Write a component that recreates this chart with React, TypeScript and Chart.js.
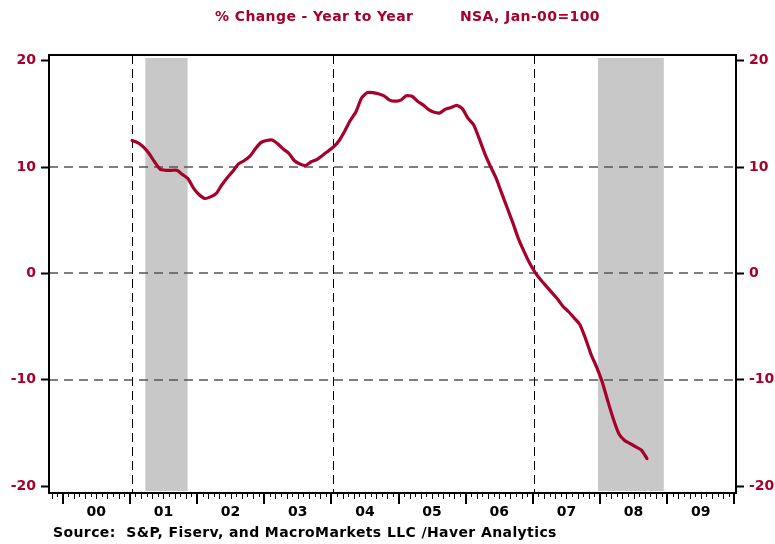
import React, { useEffect, useRef } from 'react';
import { Chart, registerables } from 'chart.js';

Chart.register(...registerables);

// ---- data (monthly, year-over-year % change, Jan 2001 .. Sep 2008) ----
const FIRST_YEAR = 2001;
const hpiYoY = [
  12.5, 12.3, 11.9, 11.3, 10.5, 9.8, 9.7, 9.7, 9.7, 9.3, 8.9, 8.0,
  7.4, 7.05, 7.2, 7.5, 8.3, 9.0, 9.6, 10.3, 10.6, 11.0, 11.7, 12.3,
  12.5, 12.55, 12.2, 11.7, 11.3, 10.6, 10.3, 10.15, 10.5, 10.7, 11.1, 11.5,
  11.9, 12.5, 13.4, 14.4, 15.2, 16.5, 17.0, 17.0, 16.9, 16.7, 16.3, 16.2,
  16.3, 16.7, 16.66, 16.2, 15.85, 15.4, 15.15, 15.1, 15.45, 15.6, 15.8, 15.5,
  14.6, 14.0, 12.7, 11.3, 10.1, 9.0, 7.6, 6.2, 4.8, 3.3, 2.1, 1.0,
  0.1, -0.6, -1.2, -1.8, -2.4, -3.1, -3.6, -4.2, -4.8, -6.1, -7.6, -8.8,
  -10.2, -12.0, -13.7, -15.1, -15.7, -16.0, -16.3, -16.6, -17.4,
];
const yearLabels = ['00', '01', '02', '03', '04', '05', '06', '07', '08', '09'];
const yearLabelPos = [2000.5, 2001.5, 2002.5, 2003.5, 2004.5, 2005.5, 2006.5, 2007.5, 2008.5, 2009.5];
const yTickValues = [-20, -10, 0, 10, 20];
const hGridValues = [-10, 0, 10];
const vLineDates = [2001.025, 2004.02, 2007.01];
const recessionStart = [2001.23, 2007.97];
const recessionEnd = [2001.86, 2008.95];
const titleLeft = '% Change - Year to Year';
const titleRight = 'NSA, Jan-00=100';
const sourceText = 'Source:  S&P, Fiserv, and MacroMarkets LLC /Haver Analytics';

const RED = '#A6002B';
const FONT = '"DejaVu Sans", sans-serif';

const points = hpiYoY.map((v, i) => ({ x: FIRST_YEAR + (i + 0.4) / 12, y: v }));

const decor = {
  id: 'decor',
  beforeDatasetsDraw(chart: any) {
    const { ctx, chartArea: a, scales } = chart;
    const x = scales.x;
    const y = scales.y;
    ctx.save();
    // recession shading
    ctx.fillStyle = '#C8C8C8';
    recessionStart.forEach((s, i) => {
      const x0 = x.getPixelForValue(s);
      const x1 = x.getPixelForValue(recessionEnd[i]);
      ctx.fillRect(x0, a.top + 3, x1 - x0, a.bottom - a.top - 5);
    });
    // horizontal dashed grid
    ctx.strokeStyle = '#555555';
    ctx.lineWidth = 1.6;
    ctx.setLineDash([9, 6]);
    hGridValues.forEach((v) => {
      const py = Math.round(y.getPixelForValue(v));
      ctx.beginPath();
      ctx.moveTo(a.left, py);
      ctx.lineTo(a.right, py);
      ctx.stroke();
    });
    // vertical dashed lines
    ctx.strokeStyle = '#000000';
    ctx.lineWidth = 1;
    ctx.setLineDash([9, 5]);
    vLineDates.forEach((d) => {
      const px = Math.round(x.getPixelForValue(d)) + 0.5;
      ctx.beginPath();
      ctx.moveTo(px, a.top);
      ctx.lineTo(px, a.bottom);
      ctx.stroke();
    });
    ctx.restore();
  },
  afterDraw(chart: any) {
    const { ctx, chartArea: a, scales } = chart;
    const x = scales.x;
    ctx.save();
    // frame
    ctx.strokeStyle = '#000';
    ctx.lineWidth = 2;
    ctx.setLineDash([]);
    ctx.strokeRect(a.left, a.top, a.right - a.left, a.bottom - a.top);
    // x tick marks (monthly)
    for (let k = -2; k <= 120; k++) {
      const v = 2000 + k / 12;
      const px = Math.round(x.getPixelForValue(v));
      const mon = ((k % 12) + 12) % 12;
      let len = 4;
      let w = 1;
      if (mon === 0) {
        len = 11;
        w = 2;
      } else if (mon % 2 === 0) {
        len = 6;
      }
      ctx.lineWidth = w;
      ctx.beginPath();
      const off = w === 1 ? 0.5 : 0;
      ctx.moveTo(px + off, a.bottom);
      ctx.lineTo(px + off, a.bottom + len);
      ctx.stroke();
    }
    // titles
    ctx.fillStyle = RED;
    ctx.font = `bold 14px ${FONT}`;
    ctx.textBaseline = 'middle';
    ctx.textAlign = 'left';
    (ctx as any).letterSpacing = '0.4px';
    ctx.fillText(titleLeft, 215, 17);
    ctx.fillText(titleRight, 460, 17);
    // source
    ctx.fillStyle = '#000';
    ctx.font = `bold 14px ${FONT}`;
    (ctx as any).letterSpacing = '0.4px';
    ctx.fillText(sourceText, 53, 533);
    ctx.restore();
  },
};

export default function App() {
  const ref = useRef<HTMLCanvasElement | null>(null);
  useEffect(() => {
    document.body.style.margin = '0';
    const canvas = ref.current;
    if (!canvas) return;
    const yAxisCommon = (side: 'left' | 'right', width: number) => ({
      type: 'linear' as const,
      position: side,
      min: -20.64,
      max: 20.54,
      afterBuildTicks: (scale: any) => {
        scale.ticks = yTickValues.map((v) => ({ value: v }));
      },
      afterFit: (scale: any) => {
        scale.width = width;
      },
      border: { display: false },
      grid: {
        drawOnChartArea: false,
        drawTicks: true,
        tickLength: 8,
        tickWidth: 2,
        tickColor: '#000',
      },
      ticks: {
        color: RED,
        padding: 5,
        font: { family: FONT, size: 14, weight: 'bold' as const },
        callback: (v: any) => String(v),
      },
    });
    const chart = new Chart(canvas, {
      type: 'line',
      data: {
        datasets: [
          {
            data: points,
            borderColor: RED,
            borderWidth: 3.2,
            pointRadius: 0,
            tension: 0.2,
            fill: false,
            borderJoinStyle: 'round',
            borderCapStyle: 'round',
          },
        ],
      },
      options: {
        responsive: false,
        animation: false,
        devicePixelRatio: 1,
        layout: { padding: { top: 55, left: 0, right: 0, bottom: 0 } },
        plugins: {
          legend: { display: false },
          tooltip: { enabled: false },
          title: { display: false },
        },
        scales: {
          x: {
            type: 'linear',
            min: 1999.796,
            max: 2010.025,
            afterBuildTicks: (scale: any) => {
              scale.ticks = yearLabelPos.map((v) => ({ value: v }));
            },
            afterFit: (scale: any) => {
              scale.height = 51;
            },
            border: { display: false },
            grid: { display: false, drawTicks: false },
            ticks: {
              autoSkip: false,
              maxRotation: 0,
              minRotation: 0,
              padding: 11,
              color: '#000',
              font: { family: FONT, size: 14, weight: 'bold' },
              callback: (_v: any, i: number) => yearLabels[i],
            },
          },
          y: yAxisCommon('left', 49),
          y2: yAxisCommon('right', 39),
        },
      },
      plugins: [decor],
    });
    return () => chart.destroy();
  }, []);
  return (
    <div style={{ position: 'absolute', left: 0, top: 0, width: 775, height: 544, background: '#fff' }}>
      <canvas ref={ref} width={775} height={544} style={{ display: 'block', width: 775, height: 544 }} />
    </div>
  );
}
